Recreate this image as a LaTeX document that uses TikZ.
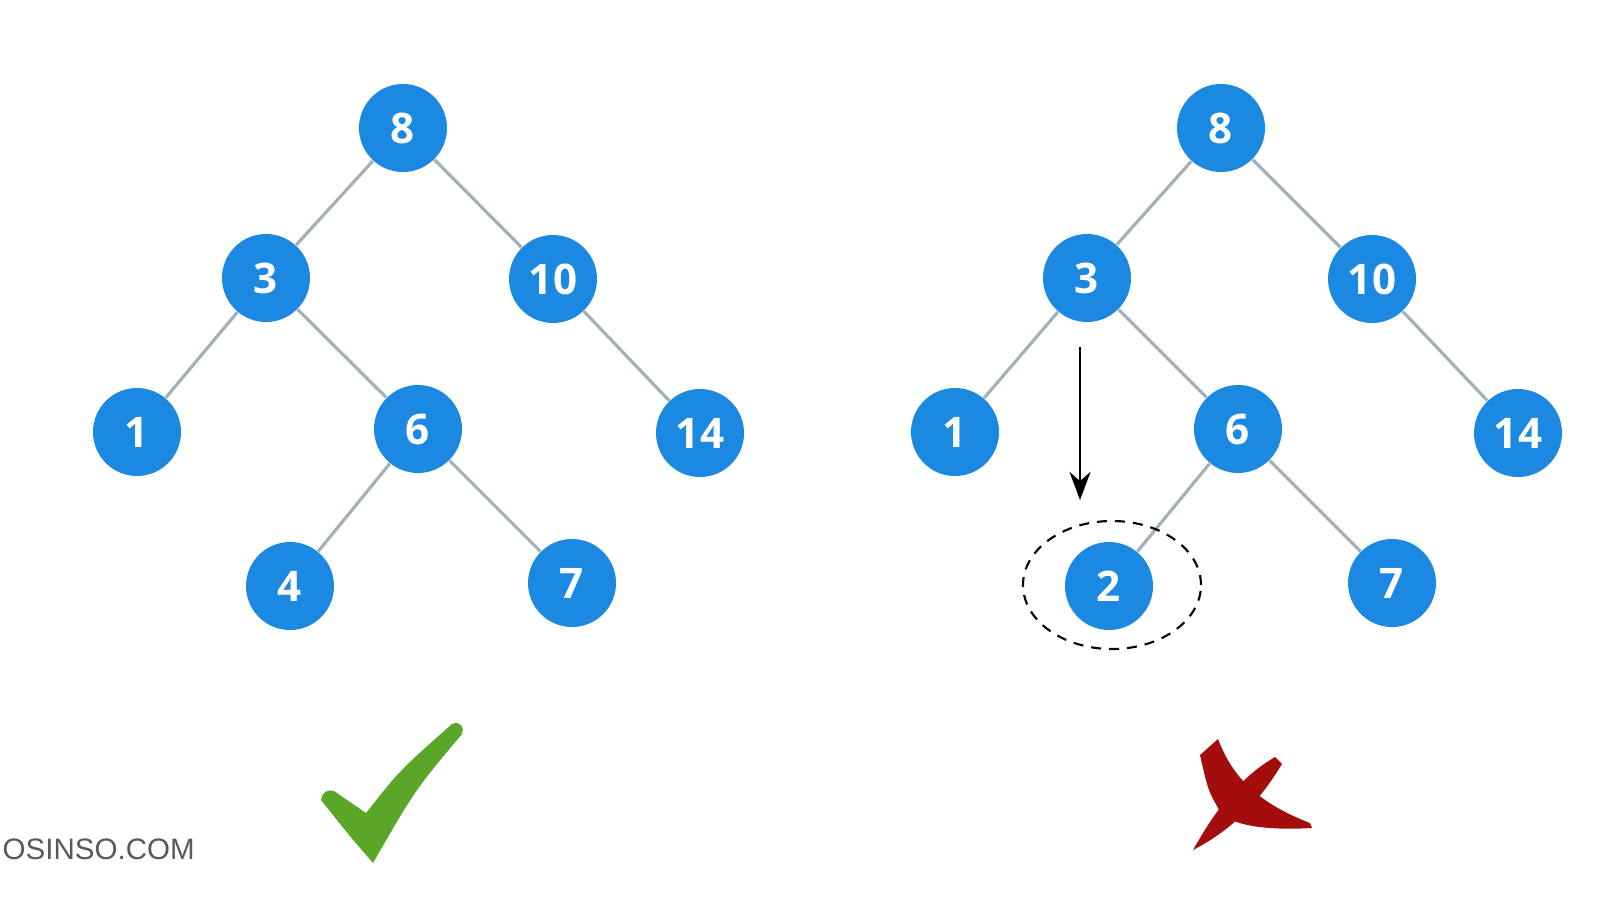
\documentclass[tikz,border=0pt]{standalone}
\usepackage{fontspec}
\setmainfont{Open Sans}
\newfontfamily\wmfont{Liberation Sans}
\usetikzlibrary{arrows.meta,shapes.geometric}
\definecolor{nodeblue}{HTML}{1B88E2}
\definecolor{edgegrey}{HTML}{A3B1B5}
\definecolor{okgreen}{HTML}{5AA628}
\definecolor{badred}{HTML}{A30D0D}
\tikzset{
  tnode/.style={circle,fill=nodeblue,text=white,minimum size=0.88cm,inner sep=0pt,
    font=\fontsize{12pt}{12pt}\selectfont\bfseries},
  tedge/.style={edgegrey,line width=0.9pt}
}

\begin{document}
\begin{tikzpicture}
  \useasboundingbox (0,0) rectangle (16,9);
  % Valid tree
  \node[tnode] (l8) at (4.03,7.72) {8};
  \node[tnode] (l3) at (2.66,6.22) {3};
  \node[tnode] (l10) at (5.53,6.21) {10};
  \node[tnode] (l1) at (1.37,4.68) {1};
  \node[tnode] (l6) at (4.18,4.71) {6};
  \node[tnode] (l14) at (7.00,4.67) {14};
  \node[tnode] (l4) at (2.90,3.14) {4};
  \node[tnode] (l7) at (5.72,3.17) {7};
  \draw[tedge] (l8) -- (l3);
  \draw[tedge] (l8) -- (l10);
  \draw[tedge] (l3) -- (l1);
  \draw[tedge] (l3) -- (l6);
  \draw[tedge] (l10) -- (l14);
  \draw[tedge] (l6) -- (l4);
  \draw[tedge] (l6) -- (l7);
  % Invalid tree
  \node[tnode] (r8) at (12.21,7.72) {8};
  \node[tnode] (r3) at (10.87,6.22) {3};
  \node[tnode] (r10) at (13.72,6.21) {10};
  \node[tnode] (r1) at (9.55,4.68) {1};
  \node[tnode] (r6) at (12.38,4.71) {6};
  \node[tnode] (r14) at (15.18,4.67) {14};
  \node[tnode] (r2) at (11.09,3.14) {2};
  \node[tnode] (r7) at (13.92,3.17) {7};
  \draw[tedge] (r8) -- (r3);
  \draw[tedge] (r8) -- (r10);
  \draw[tedge] (r3) -- (r1);
  \draw[tedge] (r3) -- (r6);
  \draw[tedge] (r10) -- (r14);
  \draw[tedge] (r6) -- (r2);
  \draw[tedge] (r6) -- (r7);
  % Misplaced node
  \node[ellipse,draw,dashed,dash pattern=on 0.1cm off 0.08cm,line width=0.6pt,
    minimum width=1.78cm,minimum height=1.28cm] (ring) at (11.12,3.15) {};
  \coordinate (from) at (10.80,5.53);
  \coordinate (to) at (10.80,4.00);
  \draw[-{Stealth[length=8pt,width=6pt]},line width=0.7pt] (from) -- (to);
  % Marks
  \fill[okgreen] (3.21,1.00) .. controls (3.22,1.08) and (3.28,1.11) .. (3.34,1.09)
    -- (3.66,0.87) .. controls (4.00,1.30) .. (4.52,1.76)
    .. controls (4.60,1.80) and (4.65,1.72) .. (4.62,1.66)
    .. controls (4.15,1.10) .. (3.73,0.37)
    .. controls (3.48,0.66) .. cycle;
  \fill[badred] (12.00,1.45) -- (12.18,1.61)
    .. controls (12.30,1.30) and (12.50,1.00) .. (13.10,0.77) -- (13.12,0.72)
    .. controls (12.60,0.69) and (12.25,0.76) .. (12.18,0.92)
    .. controls (12.08,1.10) .. cycle;
  \fill[badred] (12.75,1.43) -- (12.82,1.36)
    .. controls (12.60,1.00) and (12.35,0.72) .. (11.93,0.50)
    .. controls (12.10,0.80) and (12.35,1.20) .. cycle;
  % Watermark
  \node[anchor=west,text=black!65,font=\wmfont\fontsize{8.4pt}{8.4pt}\selectfont,inner sep=0pt]
    (wm) at (0.02,0.51) {OSINSO.COM};
\end{tikzpicture}
\end{document}
